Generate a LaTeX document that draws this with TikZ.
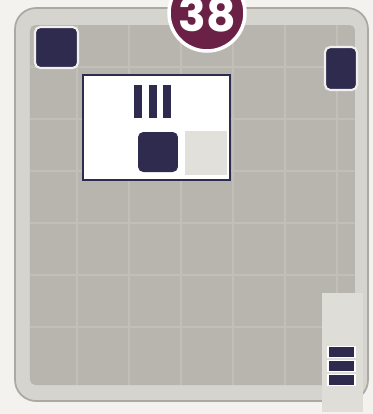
\documentclass[tikz,border=0pt]{standalone}
\usepackage{fontspec}
\usepackage{xcolor}
\usetikzlibrary{positioning}
\newfontfamily\badgefont{Poppins}
\definecolor{paperbg}{HTML}{F3F2EE}
\definecolor{cardedge}{HTML}{ABA9A2}
\definecolor{cardrim}{HTML}{D6D4CE}
\definecolor{cardfield}{HTML}{B7B5AE}
\definecolor{gridline}{HTML}{C1BFB8}
\definecolor{inknavy}{HTML}{2E2B4E}
\definecolor{badgeplum}{HTML}{6A2145}
\definecolor{paleslot}{HTML}{E2E0DB}

\begin{document}
\begin{tikzpicture}[
  x=0.02cm, y=-0.02cm,
  tile/.style={fill=inknavy, draw=white!80!cardfield, line width=1.2pt,
    rounded corners=3pt, inner sep=0pt},
  vbar/.style={fill=inknavy, inner sep=0pt, minimum width=0.16cm, minimum height=0.66cm},
  hbar/.style={fill=inknavy, draw=white, line width=0.6pt, inner sep=0pt,
    minimum width=0.54cm, minimum height=0.22cm}
]
\useasboundingbox (0,0) rectangle (373,414);
\clip (0,0) rectangle (373,414);
\fill[paperbg] (0,0) rectangle (373,414);

% card body
\filldraw[fill=cardrim, draw=cardedge, line width=1pt, rounded corners=12pt]
  (15,8) rectangle (368,401);
\fill[cardfield, rounded corners=3pt] (30,25) rectangle (355,385);
\foreach \gx in {77,129,181,233,285,337}
  \draw[gridline, line width=0.7pt] (\gx,25) -- (\gx,385);
\foreach \gy in {67,119,171,223,275,327}
  \draw[gridline, line width=0.7pt] (30,\gy) -- (355,\gy);

% corner tiles
\node[tile, minimum width=0.86cm, minimum height=0.82cm] (cornerleft) at (56.5,47.5) {};
\node[tile, minimum width=0.64cm, minimum height=0.86cm] (cornerright) at (341,68.5) {};

% white panel
\node[fill=white, draw=inknavy, line width=1.2pt, inner sep=0pt,
  minimum width=2.94cm, minimum height=2.10cm] (panel) at (156.5,127.5) {};
\node[fill=paleslot, inner sep=0pt, minimum width=0.84cm, minimum height=0.88cm]
  (slot) at (206,152.5) {};
\node[vbar] (barone) at (138,101.5) {};
\node[vbar, right=0.12cm of barone] (bartwo) {};
\node[vbar, right=0.12cm of bartwo] (barthree) {};
\node[tile, draw=none, minimum size=0.8cm] (paneltile) at (158,152) {};

% bottom right tab
\fill[paleslot!92!cardfield] (322,293) rectangle (363,412);
\node[hbar] (stripetop) at (341.5,352) {};
\node[hbar, below=0.04cm of stripetop] (stripemid) {};
\node[hbar, below=0.04cm of stripemid] (stripelow) {};

% number badge
\node[circle, fill=badgeplum, draw=white, line width=2pt, minimum size=1.52cm,
  inner sep=0pt] (badge) at (207,13) {};
\node[text=white, font=\badgefont\bfseries\fontsize{26}{26}\selectfont,
  inner sep=0pt] (badgenum) at (207,15) {38};
\end{tikzpicture}
\end{document}
